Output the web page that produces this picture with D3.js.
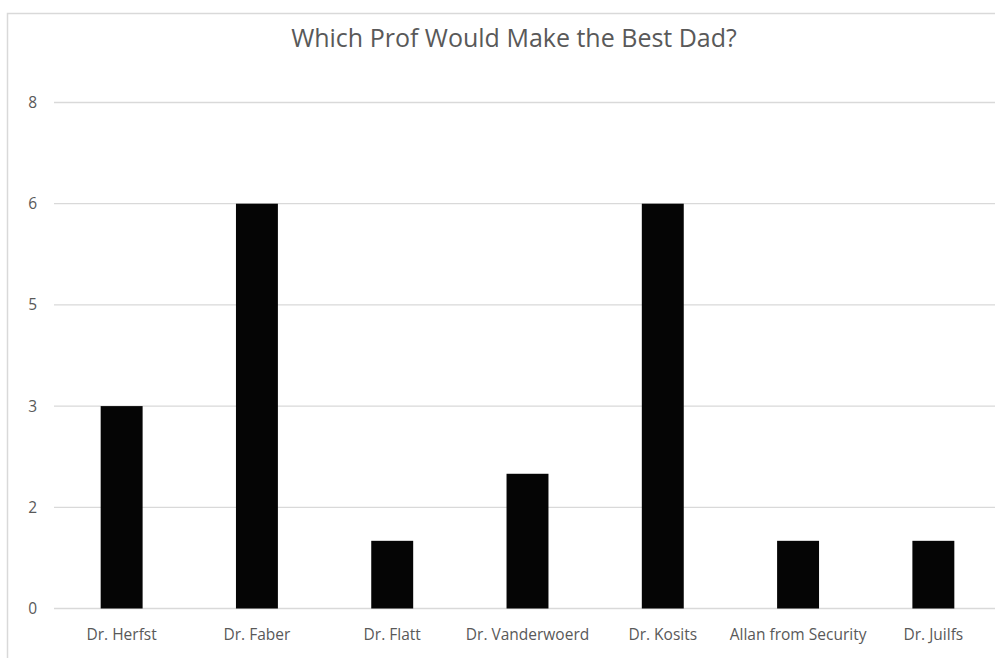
<!DOCTYPE html>
<html>
<head>
<meta charset="utf-8">
<script src="https://cdn.jsdelivr.net/npm/d3@7"></script>
<style>
  html, body { margin: 0; padding: 0; background: #fff; }
  svg { display: block; }
  text { font-family: "Open Sans", "Noto Sans", sans-serif; fill: #595959; }
</style>
</head>
<body>
<script>
const title = "Which Prof Would Make the Best Dad?";
const categories = ["Dr. Herfst", "Dr. Faber", "Dr. Flatt", "Dr. Vanderwoerd", "Dr. Kosits", "Allan from Security", "Dr. Juilfs"];
const values = [3.2, 6.4, 1.07, 2.13, 6.4, 1.07, 1.07];
const tickValues = [0, 1.6, 3.2, 4.8, 6.4, 8];
const tickLabels = ["0", "2", "3", "5", "6", "8"];

const W = 995, H = 658;
const svg = d3.select("body").append("svg").attr("width", W).attr("height", H);

// chart frame
svg.append("rect")
  .attr("x", 7.5).attr("y", 13.5)
  .attr("width", W + 20).attr("height", H + 20)
  .attr("fill", "none").attr("stroke", "#d9d9d9").attr("stroke-width", 1.5);

const x = d3.scaleBand().domain(categories).range([54, 1001]).paddingInner(0.69).paddingOuter(0.345);
const y = d3.scaleLinear().domain([0, 8]).range([608.5, 102.5]);

// gridlines
svg.append("g").selectAll("line").data(tickValues).join("line")
  .attr("x1", 54).attr("x2", 1001)
  .attr("y1", d => y(d)).attr("y2", d => y(d))
  .attr("stroke", "#d9d9d9").attr("stroke-width", 1.3);

// y axis labels
const yAxis = d3.axisLeft(y).tickValues(tickValues)
  .tickFormat((d, i) => tickLabels[i]).tickSize(0).tickPadding(0);
const gy = svg.append("g").attr("transform", "translate(37,0)").call(yAxis)
  .attr("font-size", null).attr("font-family", null);
gy.select(".domain").remove();
gy.selectAll("text").attr("font-size", 15.5).attr("fill", "#595959");

// bars
svg.append("g").selectAll("rect").data(values).join("rect")
  .attr("x", (d, i) => x(categories[i]))
  .attr("width", x.bandwidth())
  .attr("y", d => y(d))
  .attr("height", d => y(0) - y(d))
  .attr("fill", "#050505");

// x axis labels
const xAxis = d3.axisBottom(x).tickSize(0).tickPadding(0);
const gx = svg.append("g").attr("transform", "translate(0,629)").call(xAxis)
  .attr("font-size", null).attr("font-family", null);
gx.select(".domain").remove();
gx.selectAll("text").attr("font-size", 15.5).attr("fill", "#595959");

// title
svg.append("text").attr("x", 514).attr("y", 47)
  .attr("text-anchor", "middle").attr("font-size", 25)
  .text(title);
</script>
</body>
</html>
